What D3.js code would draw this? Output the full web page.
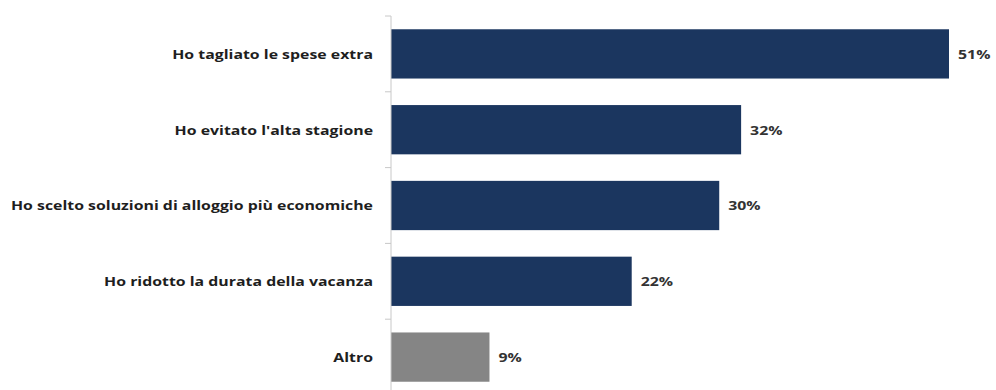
<!DOCTYPE html>
<html>
<head>
<meta charset="utf-8">
<script src="https://cdn.jsdelivr.net/npm/d3@7"></script>
<style>
  body { margin: 0; background: #fff; }
  svg { display: block; }
</style>
</head>
<body>
<svg id="chart" width="996" height="390"></svg>
<script>
const categories = [
  'Ho tagliato le spese extra',
  "Ho evitato l'alta stagione",
  'Ho scelto soluzioni di alloggio più economiche',
  'Ho ridotto la durata della vacanza',
  'Altro'
];
const values = [51, 32, 30, 22, 9];
const barColors = ['#1b365f', '#1b365f', '#1b365f', '#1b365f', '#858585'];

const svg = d3.select('#chart');
const margin = { top: 16, left: 391 };
const plotW = 558, plotH = 379;
// the source picture is a bit wider than tall, so text is stretched horizontally
const stretch = 1.22;

const x = d3.scaleLinear().domain([0, 51]).range([0, plotW]);
const y = d3.scaleBand().domain(categories).range([0, plotH]).paddingInner(0.35).paddingOuter(0.175);

const g = svg.append('g').attr('transform', `translate(${margin.left},${margin.top})`);

// bars
g.selectAll('rect.bar')
  .data(values)
  .enter()
  .append('rect')
  .attr('class', 'bar')
  .attr('x', 0)
  .attr('y', (d, i) => y(categories[i]))
  .attr('width', d => x(d))
  .attr('height', y.bandwidth())
  .attr('fill', (d, i) => barColors[i]);

// category axis with ticks at band boundaries
const step = y.step();
const boundaries = d3.range(categories.length + 1).map(i => i * step);
g.append('line')
  .attr('x1', 0).attr('x2', 0)
  .attr('y1', 0).attr('y2', plotH)
  .attr('stroke', '#c8c8c8').attr('stroke-width', 1);
g.selectAll('line.tick')
  .data(boundaries)
  .enter()
  .append('line')
  .attr('class', 'tick')
  .attr('x1', -6).attr('x2', 0)
  .attr('y1', d => d).attr('y2', d => d)
  .attr('stroke', '#c8c8c8');

// category labels
g.selectAll('text.cat')
  .data(categories)
  .enter()
  .append('text')
  .attr('class', 'cat')
  .attr('transform', d => `translate(-18,${y(d) + y.bandwidth() / 2}) scale(${stretch},1)`)
  .attr('text-anchor', 'end')
  .attr('dominant-baseline', 'central')
  .style('font-family', '"Open Sans", sans-serif')
  .style('font-weight', 700)
  .style('font-size', '13px')
  .style('fill', '#1e1e1e')
  .text(d => d);

// value labels
g.selectAll('text.val')
  .data(values)
  .enter()
  .append('text')
  .attr('class', 'val')
  .attr('transform', (d, i) => `translate(${x(d) + 9},${y(categories[i]) + y.bandwidth() / 2}) scale(${stretch},1)`)
  .attr('dominant-baseline', 'central')
  .style('font-family', '"Open Sans", sans-serif')
  .style('font-weight', 700)
  .style('font-size', '13px')
  .style('fill', '#333')
  .text(d => d + '%');
</script>
</body>
</html>
